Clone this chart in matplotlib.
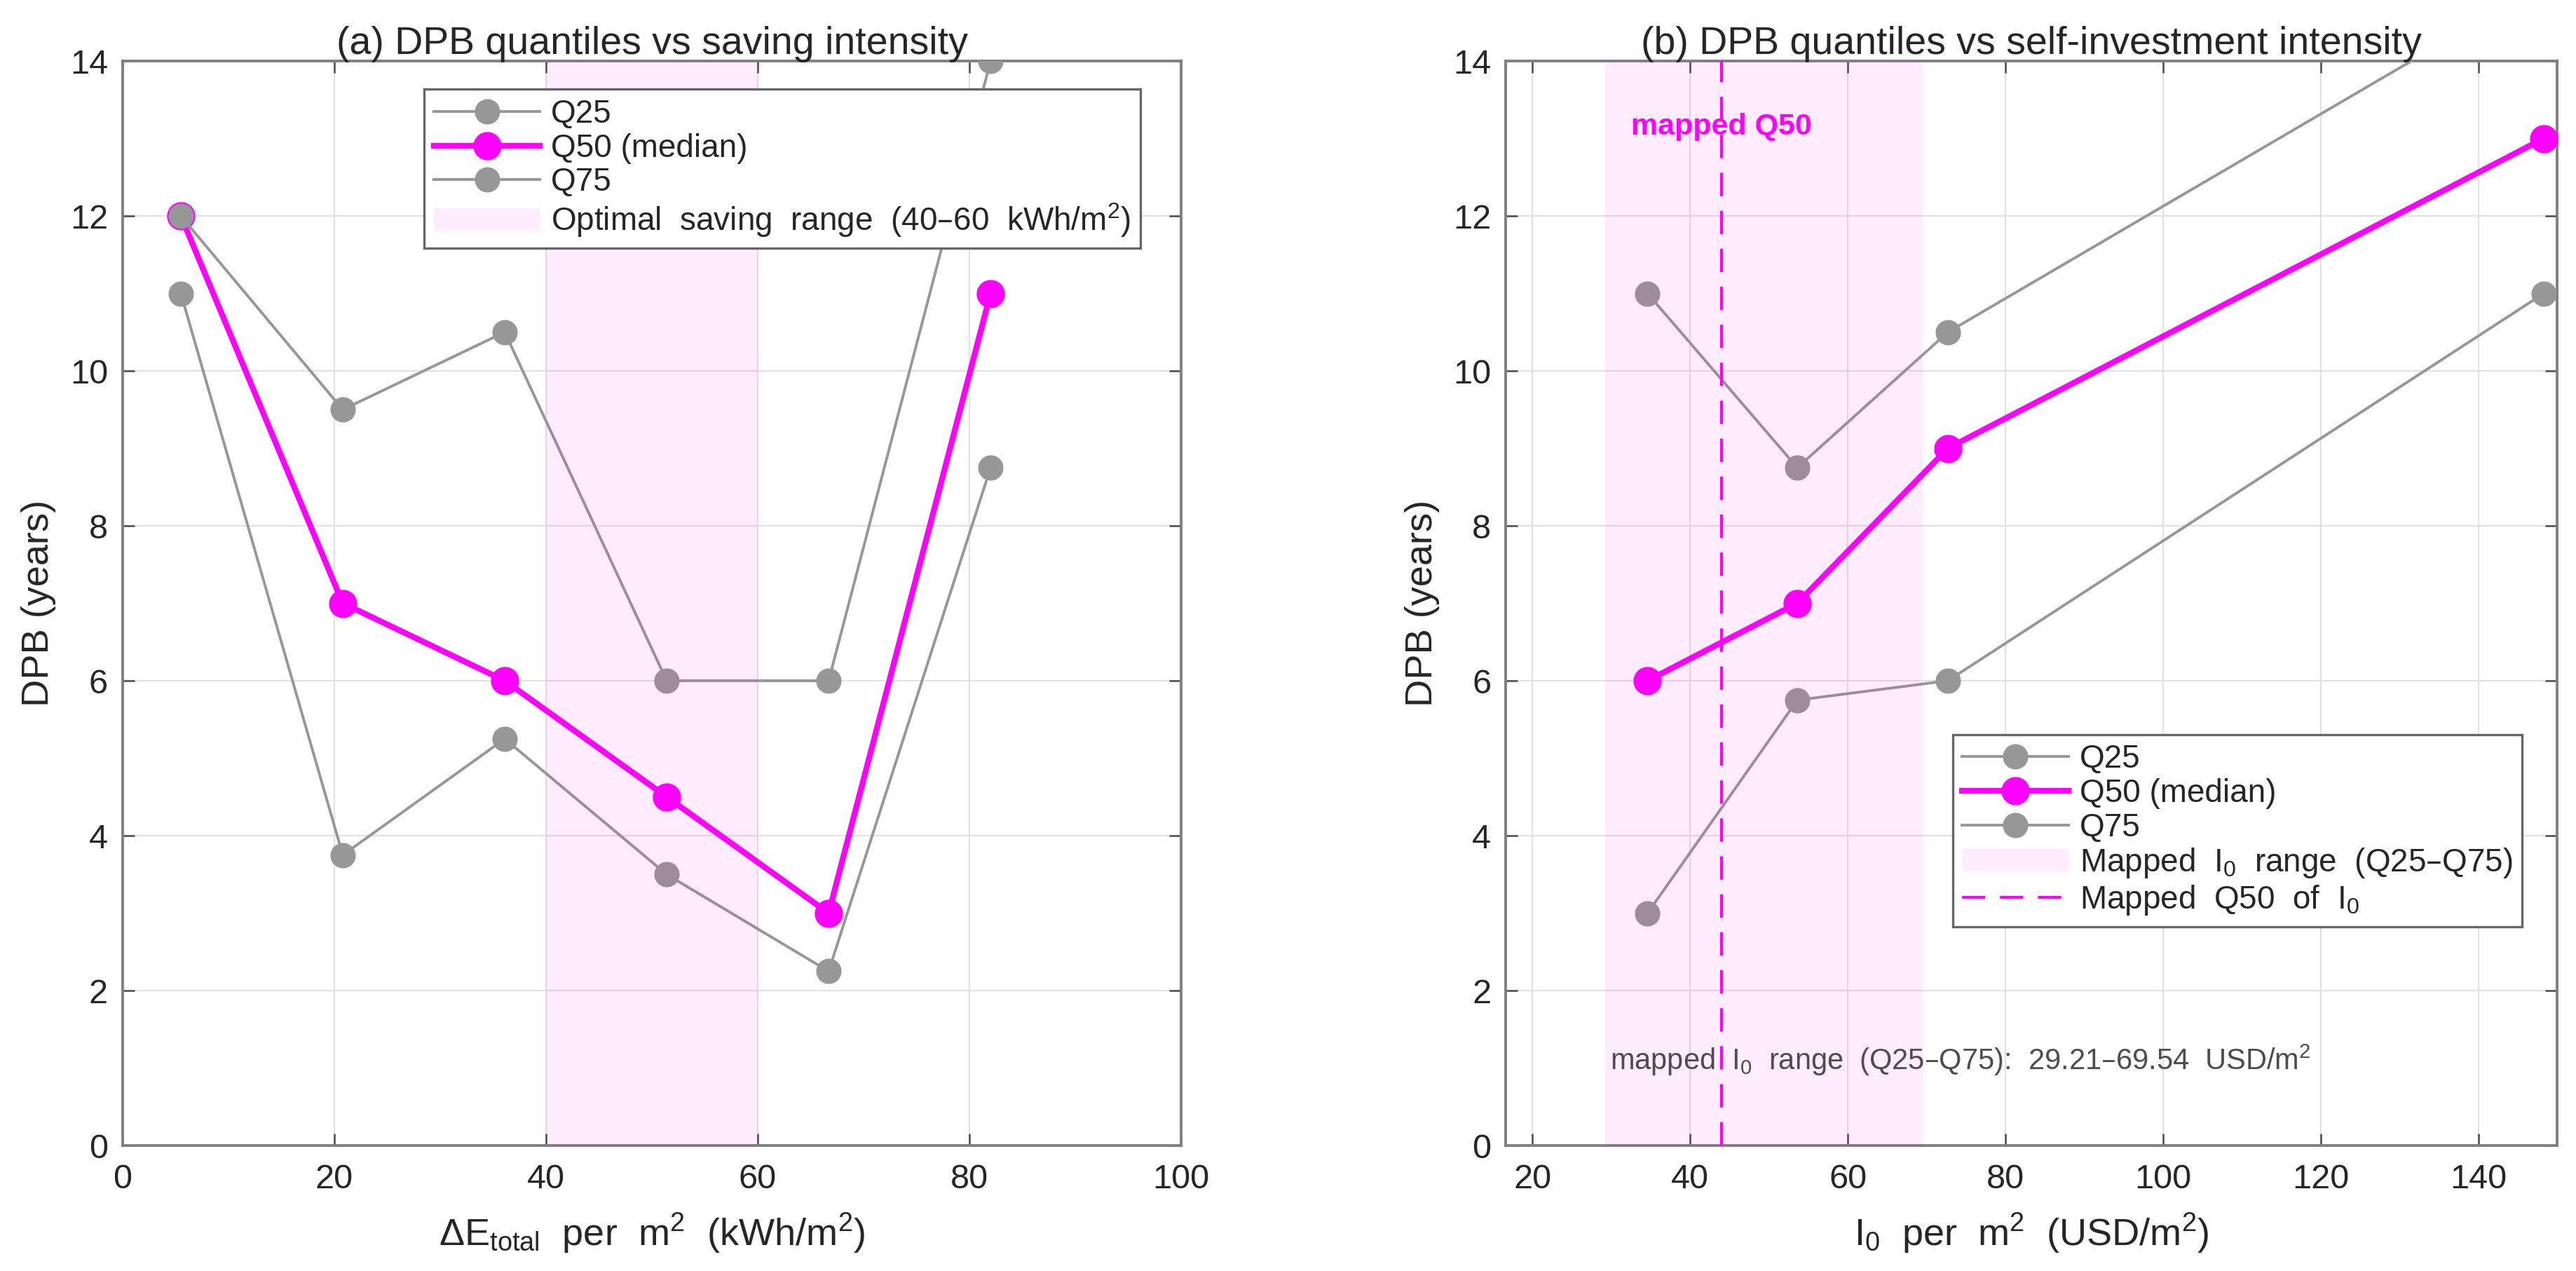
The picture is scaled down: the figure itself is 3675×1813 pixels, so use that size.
import matplotlib
matplotlib.use("Agg")
import matplotlib.pyplot as plt
from matplotlib.patches import Patch
from matplotlib.lines import Line2D

plt.rcParams['font.family'] = ['Liberation Sans', 'DejaVu Sans']
plt.rcParams['mathtext.default'] = 'regular'

# ---- data panel (a) ----
dE = [5.5, 20.8, 36.1, 51.4, 66.7, 82.0]
a_q25 = [11.0, 3.75, 5.25, 3.5, 2.25, 8.75]
a_q50 = [12.0, 7.0, 6.0, 4.5, 3.0, 11.0]
a_q75 = [12.0, 9.5, 10.5, 6.0, 6.0, 14.0]
opt_range = [40, 60]

# ---- data panel (b) ----
I0 = [34.6, 53.6, 72.7, 148.3]
b_q25 = [3.0, 5.75, 6.0, 11.0]
b_q50 = [6.0, 7.0, 9.0, 13.0]
b_q75 = [11.0, 8.75, 10.5, 15.0]
map_range = [29.21, 69.54]
map_q50 = 44.0

GRAY = '#979797'
MAG = '#FF00FF'
AXC = '#808080'
TXT = '#262626'
LW_G, LW_M = 2.8, 6.0
MS_G, MS_M = 25, 28
SHADE_A = 0.075
DASH = (0, (8, 5))

fig = plt.figure(figsize=(36.75, 18.13), dpi=100)
axa = fig.add_axes([0.0476, 0.0987, 0.4109, 0.8533])
axb = fig.add_axes([0.5845, 0.0987, 0.4082, 0.8533])


def style(ax):
    ax.set_ylim(0, 14)
    ax.set_yticks(range(0, 15, 2))
    ax.grid(True, color='#e2e2e2', linewidth=1.6, zorder=0)
    ax.set_axisbelow(True)
    for s in ax.spines.values():
        s.set_color(AXC)
        s.set_linewidth(2.8)
    ax.tick_params(direction='in', length=12.5, width=1.8, color='#4a4a4a',
                   top=True, right=True, labelsize=35, labelcolor=TXT)
    ax.tick_params(axis='x', pad=19)
    ax.tick_params(axis='y', pad=15)
    ax.set_ylabel('DPB (years)', fontsize=39, color=TXT, labelpad=14)


def quantile_lines(ax, x, q25, q50, q75):
    ax.plot(x, q25, '-o', color=GRAY, lw=LW_G, ms=MS_G, mec=GRAY, mfc=GRAY, zorder=3)
    ax.plot(x, q50, '-o', color=MAG, lw=LW_M, ms=MS_M, mec=MAG, mfc=MAG, zorder=3)
    ax.plot(x, q75, '-o', color=GRAY, lw=LW_G, ms=MS_G, mec=GRAY, mfc=GRAY, zorder=3)


def q_handles():
    return [Line2D([], [], color=GRAY, lw=LW_G, marker='o', ms=MS_G),
            Line2D([], [], color=MAG, lw=LW_M, marker='o', ms=MS_M),
            Line2D([], [], color=GRAY, lw=LW_G, marker='o', ms=MS_G),
            Patch(facecolor=MAG, alpha=SHADE_A, edgecolor='none')]


def finish_legend(leg):
    leg.get_frame().set_linewidth(2.4)
    for t in leg.get_texts():
        t.set_color(TXT)


LEG_KW = dict(fontsize=33, fancybox=False, framealpha=1, edgecolor='#666666',
              handlelength=3.3, handletextpad=0.35, borderpad=0.3,
              labelspacing=0.1, borderaxespad=0)

# ---- panel (a) ----
style(axa)
quantile_lines(axa, dE, a_q25, a_q50, a_q75)
axa.axvspan(opt_range[0], opt_range[1], facecolor=MAG, alpha=SHADE_A, edgecolor='none', zorder=4)
axa.set_xlim(0, 100)
axa.set_xticks(range(0, 101, 20))
axa.set_xlabel(r'$\Delta E_{total}$  per  m$^{2}$  (kWh/m$^{2}$)', fontsize=39, color=TXT, labelpad=16)
axa.set_title('(a) DPB quantiles vs saving intensity', fontsize=40, color=TXT, pad=7)
la = axa.legend(q_handles(),
                ['Q25', 'Q50 (median)', 'Q75', r'Optimal  saving  range  (40–60  kWh/m$^{2}$)'],
                loc='upper left', bbox_to_anchor=(0.285, 0.974), **LEG_KW)
finish_legend(la)

# ---- panel (b) ----
style(axb)
quantile_lines(axb, I0, b_q25, b_q50, b_q75)
axb.axvspan(map_range[0], map_range[1], facecolor=MAG, alpha=SHADE_A, edgecolor='none', zorder=4)
axb.axvline(map_q50, color=MAG, lw=3, ls=DASH, zorder=5)
axb.set_xlim(16.6, 150)
axb.set_xticks(range(20, 141, 20))
axb.set_xlabel(r'I$_{0}$  per  m$^{2}$  (USD/m$^{2}$)', fontsize=39, color=TXT, labelpad=16)
axb.set_title('(b) DPB quantiles vs self-investment intensity', fontsize=40, color=TXT, pad=7)
axb.text(map_q50, 13.15, 'mapped Q50', color=MAG, fontsize=31, fontweight='bold',
         ha='center', va='center', zorder=6)
axb.annotate('mapped  I$_{0}$  range  (Q25–Q75):  %.2f–%.2f  USD/m$^{2}$'
             % (map_range[0], map_range[1]),
             xy=(map_range[0], 1.1), xytext=(5, 0), textcoords='offset points',
             color='#4d4d4d', fontsize=30, ha='left', va='center', zorder=6)
hb = q_handles() + [Line2D([], [], color=MAG, lw=3, ls=DASH)]
lb = axb.legend(hb, ['Q25', 'Q50 (median)', 'Q75', r'Mapped  I$_{0}$  range  (Q25–Q75)',
                     r'Mapped  Q50  of  I$_{0}$'],
                loc='upper left', bbox_to_anchor=(0.425, 0.379), **LEG_KW)
finish_legend(lb)

fig.savefig('out.png', dpi=100, facecolor='white')
